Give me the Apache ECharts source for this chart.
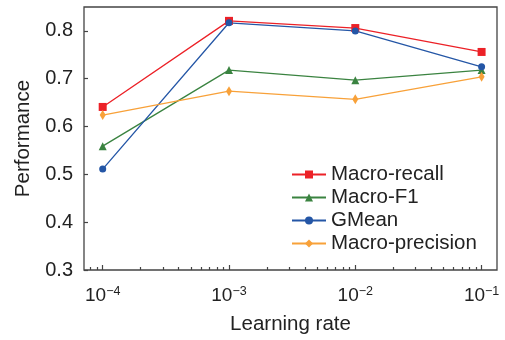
<!DOCTYPE html>
<html>
<head>
<meta charset="utf-8">
<script src="https://cdn.jsdelivr.net/npm/echarts@6/dist/echarts.min.js"></script>
<style>
  html, body { margin: 0; padding: 0; background: #fff; }
  #chart { width: 505px; height: 340px; }
</style>
</head>
<body>
<div id="chart"></div>
<script>
// Learning rates tested (plotted on a log10 scale)
const learningRates = [1e-4, 1e-3, 1e-2, 1e-1];
const seriesNames = ['Macro-recall', 'Macro-F1', 'GMean', 'Macro-precision'];
const macroRecall = [0.641, 0.821, 0.806, 0.756];
const macroF1 = [0.559, 0.718, 0.697, 0.718];
const gMean = [0.511, 0.817, 0.800, 0.725];
const macroPrecision = [0.624, 0.674, 0.657, 0.704];
const yTicks = [0.3, 0.4, 0.5, 0.6, 0.7, 0.8];
const xExponents = [-4, -3, -2, -1];

const xMin = -4.148, xMax = -0.878;

// minor log ticks (2..9 × 10^k) inside the visible range
const minorTicks = [];
for (let k = -5; k <= -1; k++) {
  for (let m = 2; m <= 9; m++) {
    const v = Math.log10(m) + k;
    if (v > xMin && v < xMax) minorTicks.push(v);
  }
}

const toPoints = vals => learningRates.map((lr, i) => [Math.log10(lr), vals[i]]);

const font = 'Liberation Sans, Arial, sans-serif';
const textColor = '#222';

const chart = echarts.init(document.getElementById('chart'), null, { renderer: 'canvas' });

const lineSeries = (name, vals, color, symbol, size) => ({
  name, type: 'line', data: toPoints(vals),
  symbol, symbolSize: size,
  lineStyle: { color, width: 1.3 },
  itemStyle: { color },
  emphasis: { disabled: true },
  animation: false
});

chart.setOption({
  animation: false,
  grid: {
    left: 84, right: 8, top: 7, bottom: 70,
    show: true, borderColor: '#444', borderWidth: 1.3, backgroundColor: 'transparent'
  },
  legend: {
    orient: 'vertical',
    left: 286, top: 159,
    itemWidth: 34, itemHeight: 10, itemGap: 2,
    textStyle: { fontFamily: font, fontSize: 20.5, color: textColor, lineHeight: 21 },
    data: seriesNames
  },
  xAxis: [
    {
      type: 'value', min: xMin, max: xMax,
      name: 'Learning rate', nameLocation: 'middle', nameGap: 44,
      nameTextStyle: { fontFamily: font, fontSize: 20.5, color: textColor },
      axisLine: { show: false },
      splitLine: { show: false },
      axisTick: { inside: true, length: 5, customValues: xExponents, lineStyle: { color: '#444', width: 1.2 } },
      axisLabel: {
        customValues: xExponents, margin: 15,
        formatter: v => '{b|10}{s|\u2212' + Math.abs(Math.round(v)) + '}',
        rich: {
          b: { fontFamily: font, fontSize: 19, color: textColor },
          s: { fontFamily: font, fontSize: 12.5, color: textColor, verticalAlign: 'bottom', padding: [0, 0, 9, 0] }
        }
      }
    },
    {
      type: 'value', min: xMin, max: xMax, position: 'bottom',
      axisLine: { show: false },
      splitLine: { show: false },
      axisLabel: { show: false },
      axisTick: { inside: true, length: 3, customValues: minorTicks, lineStyle: { color: '#444', width: 1.2 } }
    }
  ],
  yAxis: {
    type: 'value', min: 0.3, max: 0.85,
    name: 'Performance', nameLocation: 'middle', nameGap: 49,
    nameTextStyle: { fontFamily: font, fontSize: 20.5, color: textColor },
    axisLine: { show: false },
    splitLine: { show: false },
    axisTick: { inside: true, length: 4, customValues: yTicks, lineStyle: { color: '#444', width: 1.2 } },
    axisLabel: {
      customValues: yTicks, margin: 11,
      fontFamily: font, fontSize: 20, color: textColor,
      formatter: v => v.toFixed(1)
    }
  },
  series: [
    lineSeries(seriesNames[0], macroRecall, '#ec2127', 'rect', 8),
    lineSeries(seriesNames[1], macroF1, '#3a8340', 'triangle', 8),
    lineSeries(seriesNames[2], gMean, '#2456a6', 'circle', 7),
    lineSeries(seriesNames[3], macroPrecision, '#f8a139', 'diamond', [6, 10])
  ]
});
</script>
</body>
</html>
